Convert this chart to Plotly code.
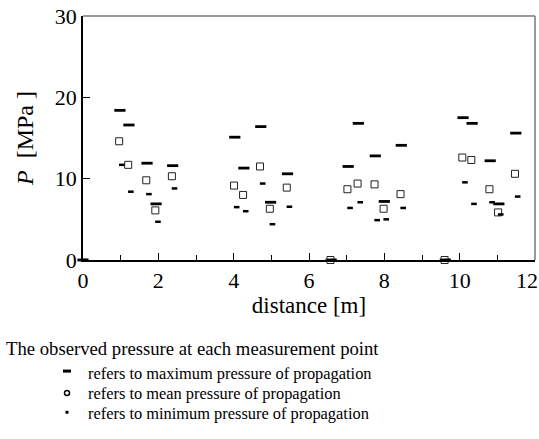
import plotly.graph_objects as go

# distance [m] of each measurement point
dist = [0.0, 0.98, 1.22, 1.70, 1.94, 2.38,
        4.03, 4.27, 4.72, 4.98, 5.43,
        6.59, 7.04, 7.31, 7.76, 8.00, 8.45,
        9.62, 10.09, 10.33, 10.81, 11.04, 11.49]
p_max = [0.0, 18.4, 16.6, 11.9, 6.9, 11.6,
         15.1, 11.3, 16.4, 7.1, 10.6,
         0.0, 11.5, 16.8, 12.8, 7.2, 14.1,
         0.0, 17.5, 16.8, 12.2, 6.9, 15.6]
p_mean = [0.0, 14.6, 11.7, 9.8, 6.1, 10.3,
          9.15, 8.0, 11.5, 6.3, 8.9,
          0.0, 8.7, 9.4, 9.3, 6.3, 8.1,
          0.0, 12.6, 12.3, 8.7, 5.85, 10.6]
p_min = [0.0, 11.7, 8.4, 8.1, 4.7, 8.8,
         6.5, 6.0, 9.4, 4.4, 6.55,
         0.0, 6.4, 7.1, 4.9, 5.0, 6.4,
         0.0, 9.55, 6.9, 7.1, 5.6, 7.8]
# small horizontal offsets of the symbols as drawn in the source figure
off_mean = -0.02
off_min = 0.05

x_ticks = [0, 2, 4, 6, 8, 10]
x_last_tick = 12
y_ticks = [0, 10, 20, 30]

FONT = "Liberation Serif"
PW, PH = 452, 246  # plot area size in px (for paper coords of caption)

fig = go.Figure()
fig.add_trace(go.Scatter(
    x=dist, y=p_max, mode="markers",
    marker=dict(symbol="line-ew", size=8, line=dict(width=2.8, color="black")),
    showlegend=False, cliponaxis=False))
fig.add_trace(go.Scatter(
    x=[d + off_mean for d in dist], y=p_mean, mode="markers",
    marker=dict(symbol="square-open", size=7, color="#222",
                line=dict(width=1, color="#222")),
    showlegend=False, cliponaxis=False))
fig.add_trace(go.Scatter(
    x=[d + off_min for d in dist], y=p_min, mode="markers",
    marker=dict(symbol="line-ew", size=4, line=dict(width=2.5, color="black")),
    showlegend=False, cliponaxis=False))

fig.update_layout(
    width=539, height=439,
    margin=dict(l=83, r=4, t=14, b=179),
    plot_bgcolor="white", paper_bgcolor="white",
    font=dict(family=FONT, color="black"),
    xaxis=dict(range=[0, 12], tickvals=x_ticks, ticks="inside", ticklen=7,
               tickwidth=1.2, tickcolor="black",
               minor=dict(dtick=1, ticks="inside", ticklen=5, tickcolor="black", tickwidth=1.2),
               showline=True, linecolor="black", linewidth=1.5,
               showgrid=False, zeroline=False,
               tickfont=dict(size=22, family=FONT, color="black"),
               title=dict(text="distance [m]", font=dict(size=23, family=FONT, color="black"), standoff=4)),
    yaxis=dict(range=[0, 30], tickvals=y_ticks, ticks="inside", ticklen=7,
               tickwidth=1.2, tickcolor="black",
               showline=True, linecolor="black", linewidth=1.5,
               showgrid=False, zeroline=False,
               tickfont=dict(size=22, family=FONT, color="black"),
               title=dict(text="<i>P</i>  [MPa ]", font=dict(size=24, family=FONT, color="black"), standoff=14)),
)

# tick label "12" placed flush with the right edge as in the source
fig.add_annotation(text=str(x_last_tick), x=x_last_tick, xref="x", y=0, yref="y",
                   xanchor="right", yanchor="top", xshift=5, yshift=-6, showarrow=False,
                   font=dict(size=22, family=FONT, color="black"))

# top and right frame lines (gray)
fig.add_shape(type="line", xref="paper", yref="paper", x0=0, x1=1, y0=1, y1=1,
              line=dict(color="#777", width=1.5))
fig.add_shape(type="line", xref="paper", yref="paper", x0=1, x1=1, y0=0, y1=1,
              line=dict(color="#777", width=1.5))

# caption / legend below the chart
fig.add_annotation(text="The observed pressure at each measurement point",
                   xref="paper", yref="paper", x=-(83-4)/PW, y=-(349-260)/PH,
                   xanchor="left", yanchor="middle", showarrow=False,
                   font=dict(size=18.7, family=FONT, color="black"))
legend_rows = [("refers to maximum pressure of propagation", 374),
               ("refers to mean pressure of propagation", 395),
               ("refers to minimum pressure of propagation", 415)]
for txt, ypx in legend_rows:
    fig.add_annotation(text=txt, xref="paper", yref="paper",
                       x=(86-83)/PW, y=-(ypx-260)/PH,
                       xanchor="left", yanchor="middle", showarrow=False,
                       font=dict(size=16.4, family=FONT, color="black"))
# legend glyphs
fig.add_shape(type="line", xref="paper", yref="paper",
              x0=(63-83)/PW, x1=(71-83)/PW, y0=-(372-260)/PH, y1=-(372-260)/PH,
              line=dict(color="black", width=3))
fig.add_shape(type="circle", xref="paper", yref="paper",
              x0=(64.5-83)/PW, x1=(69.5-83)/PW, y0=-(396.5-260)/PH, y1=-(391.5-260)/PH,
              line=dict(color="black", width=1.5))
fig.add_shape(type="rect", xref="paper", yref="paper",
              x0=(65.5-83)/PW, x1=(68.5-83)/PW, y0=-(415-260)/PH, y1=-(412-260)/PH,
              line=dict(width=0), fillcolor="black")

fig.write_html("out.html")
